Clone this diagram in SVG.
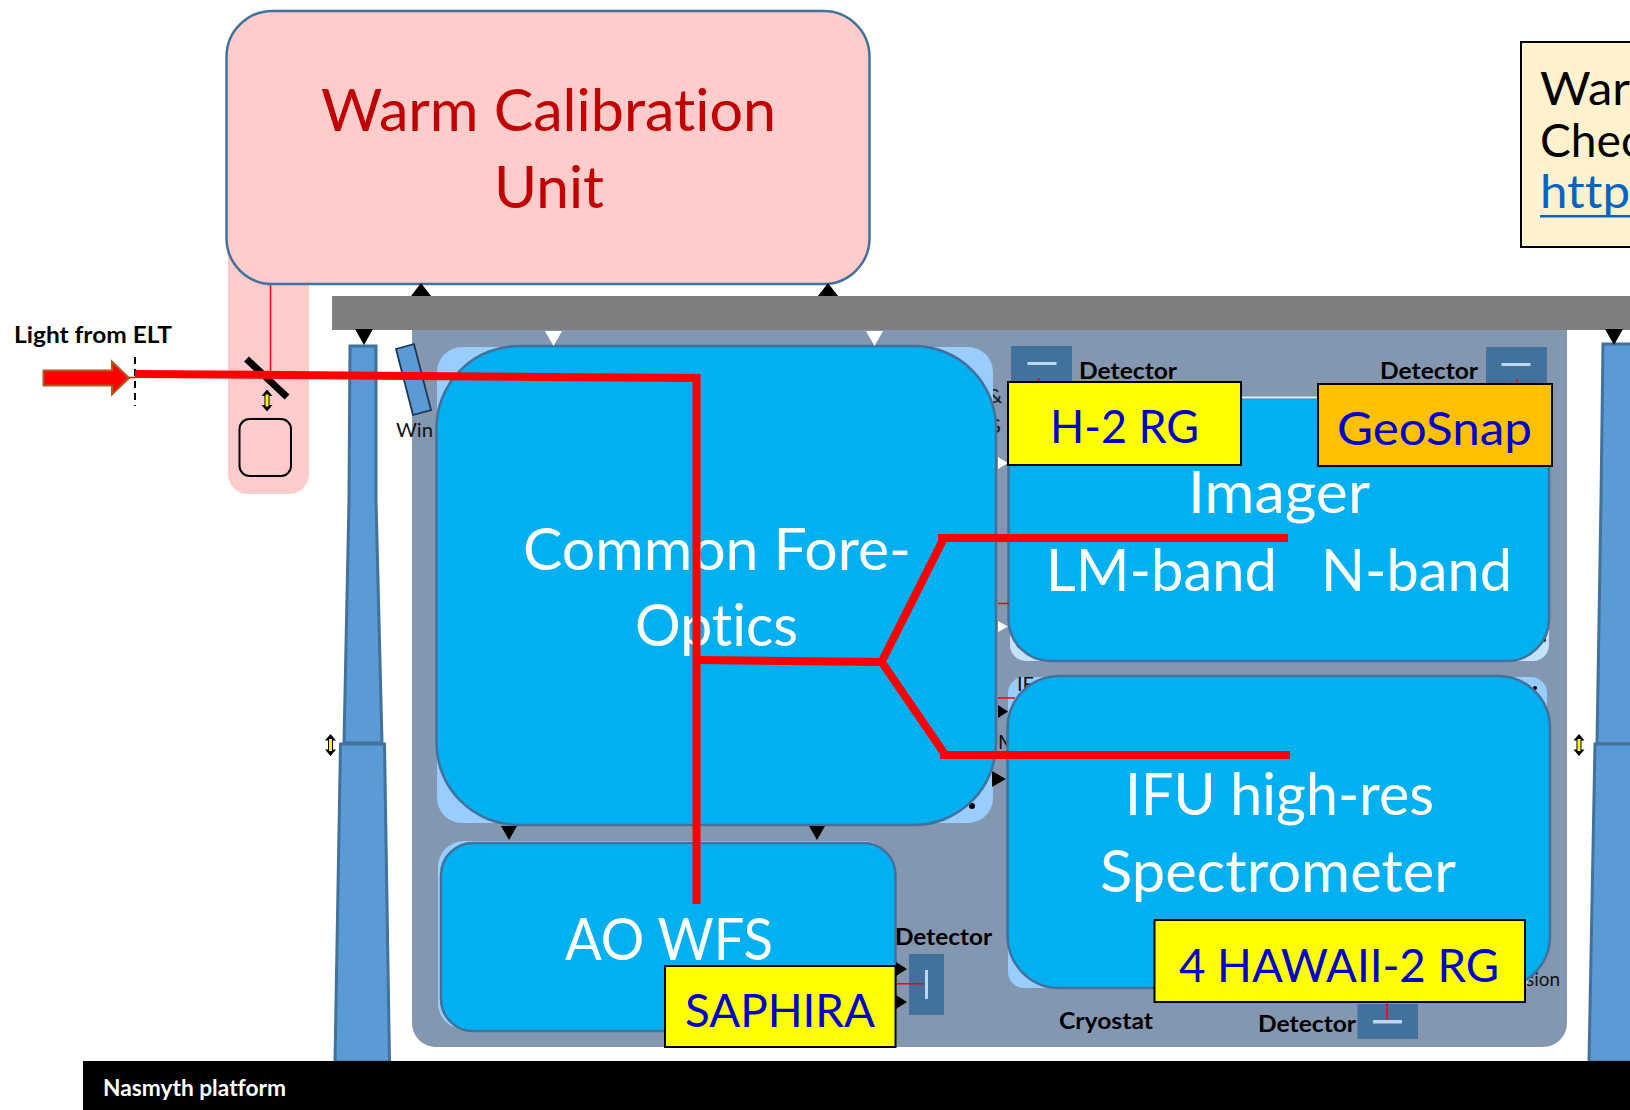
<svg xmlns="http://www.w3.org/2000/svg" width="1630" height="1110" viewBox="0 0 1630 1110">
<style>
text{font-family:Lato,"Liberation Sans",sans-serif;font-variant-ligatures:none}
.big{font-size:57.5px;fill:#fff}
.tag{font-size:46px;fill:#0000cc}
.lab{font-size:23.5px;font-weight:700;fill:#000}
.sm{font-size:20px;fill:#111}
.box{fill:#00b0f0;stroke:#41719c;stroke-width:2.5}
.back{fill:#99ccff}
.det{fill:#41719c}
.dl{fill:#bdd7ee}
.tagbox{stroke:#000;stroke-width:2}
.tri{fill:#000}
.wtri{fill:#fff}
.thin{stroke:#f00;stroke-width:1.5;fill:none}
.ray{stroke:#f00;stroke-width:8;fill:none}
.pil{fill:#5b9bd5;stroke:#41719c;stroke-width:3}
</style>
<defs>
<g id="dbl">
<path fill="#000" d="M0-11 5.500-4.500H2.500V4.500H5.500L0 11-5.500 4.500H-2.500V-4.500H-5.500Z"/>
<rect x="-1.500" y="-6" width="3" height="12" fill="#ff0"/>
</g>
</defs>

<g id="warm-stem">
<rect x="228" y="230" width="81" height="264" rx="20" fill="#ffcccc"/>
<path class="thin" d="M270.500 284V374"/>
<path d="M246.500 359 287 397" stroke="#000" stroke-width="7" fill="none"/>
<use href="#dbl" x="267" y="400.500"/>
<rect x="239.500" y="419" width="51.500" height="57" rx="10" fill="none" stroke="#000" stroke-width="2"/>
</g>

<g id="warm-calibration-unit">
<rect x="226.500" y="11" width="643" height="273" rx="46" fill="#ffcccc" stroke="#41719c" stroke-width="2.500"/>
<text x="321" y="131" font-size="57.500" fill="#c00000" textLength="455" lengthAdjust="spacingAndGlyphs">Warm Calibration</text>
<text x="494" y="208" font-size="57.500" fill="#c00000" textLength="110" lengthAdjust="spacingAndGlyphs">Unit</text>
</g>

<g id="note">
<rect x="1521" y="42" width="130" height="205" fill="#fff2cc" stroke="#000" stroke-width="2"/>
<text x="1540" y="105" font-size="46" fill="#000" textLength="90" lengthAdjust="spacingAndGlyphs">War</text>
<text x="1540" y="157" font-size="46" fill="#000" textLength="103" lengthAdjust="spacingAndGlyphs">Chec</text>
<text x="1540" y="208" font-size="46" fill="#0563c1" textLength="90" lengthAdjust="spacingAndGlyphs">http</text>
<rect x="1540" y="215" width="90" height="2.500" fill="#0563c1"/>
</g>

<g id="cryostat">
<path d="M412 330H1567V1023a24 24 0 0 1-24 24H436a24 24 0 0 1-24-24Z" fill="#8497b0"/>
<text class="sm" x="396" y="437" textLength="37" lengthAdjust="spacingAndGlyphs">Win</text>
<text class="lab" x="1059" y="1029" textLength="94" lengthAdjust="spacingAndGlyphs">Cryostat</text>
<text class="sm" x="1526" y="986" textLength="34" lengthAdjust="spacingAndGlyphs">sion</text>
<text class="sm" x="988" y="403">&amp;</text>
<text class="sm" x="990" y="433">S</text>
<text class="sm" x="998" y="749" font-size="22">M</text>
</g>

<g id="bench">
<rect x="332" y="296" width="1298" height="34" fill="#7f7f7f"/>
</g>

<g id="pillar-left">
<path class="pil" d="M350 346H376V500L382 743H344L349 500Z"/>
<path class="pil" d="M340.500 744H384.500L389.500 1062H335Z"/>
<use href="#dbl" x="330.500" y="745"/>
</g>
<g id="pillar-right">
<path class="pil" d="M1603 344H1640V744H1597L1601 500Z"/>
<path class="pil" d="M1595 744H1640V1062H1589Z"/>
<use href="#dbl" x="1579" y="745"/>
</g>

<g id="window">
<path d="M396 349 414 344 431 410 413 415Z" fill="#5b9bd5" stroke="#1c3650" stroke-width="1.800"/>
</g>

<g id="common-fore-optics">
<rect class="back" x="437" y="347" width="556" height="476" rx="25"/>
<circle cx="972" cy="806" r="3" fill="#000"/>
<rect class="box" x="436.500" y="346" width="559.500" height="479" rx="82"/>
<text class="big" x="523" y="570" textLength="388" lengthAdjust="spacingAndGlyphs">Common Fore-</text>
<text class="big" x="635" y="646" textLength="163" lengthAdjust="spacingAndGlyphs">Optics</text>
</g>

<g id="imager">
<rect x="1010" y="397" width="539" height="264" rx="16" fill="#c4e3fa"/>
<circle cx="1544" cy="640" r="2" fill="#000"/>
<circle cx="1019" cy="645" r="2.500" fill="#000"/>
<rect class="box" x="1008.500" y="398" width="540.500" height="263" rx="42"/>
<path d="M1241 397.500H1318" stroke="#dff2fc" stroke-width="2"/>
<text class="big" x="1188" y="513" textLength="182" lengthAdjust="spacingAndGlyphs">Imager</text>
<text class="big" x="1046" y="590.500" textLength="231" lengthAdjust="spacingAndGlyphs">LM-band</text>
<text class="big" x="1321" y="590.500" textLength="191" lengthAdjust="spacingAndGlyphs">N-band</text>
</g>

<g id="ifu">
<path class="back" d="M1024 677H1531a16 16 0 0 1 16 16V945L1525 988H1024a16 16 0 0 1-16-16V693a16 16 0 0 1 16-16Z"/>
<text class="sm" x="1017" y="691" font-size="14">IF</text>
<circle cx="1535" cy="688" r="2" fill="#000"/>
<rect class="box" x="1007.500" y="676" width="542.500" height="312" rx="52"/>
<text class="big" x="1125" y="815" textLength="309" lengthAdjust="spacingAndGlyphs">IFU high-res</text>
<text class="big" x="1100" y="892" textLength="356" lengthAdjust="spacingAndGlyphs">Spectrometer</text>
</g>

<g id="ao-wfs">
<rect class="back" x="438" y="841" width="452" height="188" rx="26"/>
<rect class="box" x="441" y="843" width="454.500" height="188" rx="32"/>
<text class="big" x="565" y="960" textLength="208" lengthAdjust="spacingAndGlyphs">AO WFS</text>
</g>

<g id="detector-imager-left">
<rect class="det" x="1011" y="346" width="61" height="38"/>
<rect class="dl" x="1027.500" y="362" width="29" height="3"/>
<path class="thin" d="M1039 378V384"/>
<text class="lab" x="1079" y="379" textLength="98" lengthAdjust="spacingAndGlyphs">Detector</text>
</g>
<g id="detector-imager-right">
<rect class="det" x="1486" y="347" width="61" height="39"/>
<rect class="dl" x="1501.500" y="363" width="29" height="3"/>
<path class="thin" d="M1517 379V386"/>
<text class="lab" x="1380" y="379" textLength="98" lengthAdjust="spacingAndGlyphs">Detector</text>
</g>
<g id="detector-ao">
<rect class="det" x="909" y="954" width="35" height="61"/>
<rect class="dl" x="925" y="970" width="3" height="29"/>
<text class="lab" x="895" y="945" textLength="97" lengthAdjust="spacingAndGlyphs">Detector</text>
</g>
<g id="detector-ifu">
<rect class="det" x="1357.500" y="1004" width="60.500" height="35"/>
<rect class="dl" x="1373" y="1020" width="29" height="3.500"/>
<text class="lab" x="1258" y="1032" textLength="98" lengthAdjust="spacingAndGlyphs">Detector</text>
</g>

<g id="connectors">
<path class="tri" d="M421 283 431 296H411Z"/>
<path class="tri" d="M828 283 838 296H818Z"/>
<path class="tri" d="M355 329H373L364 345Z"/>
<path class="tri" d="M1605 329H1623L1614 345Z"/>
<path class="wtri" d="M545 331H562L553.500 346Z"/>
<path class="wtri" d="M866 331H883L874.500 346Z"/>
<path class="wtri" d="M998 457 1008 463 998 469Z"/>
<path class="wtri" d="M998 621 1008 626.500 998 632Z"/>
<path class="tri" d="M998 705 1008 711.500 998 718Z"/>
<path class="tri" d="M992 771 1006 779 992 787Z"/>
<path class="tri" d="M501 826H517L509 840Z"/>
<path class="tri" d="M809 826H825L817 840Z"/>
<path class="tri" d="M896 962 907 969 896 976Z"/>
<path class="tri" d="M896 995 907 1002 896 1009Z"/>
<path class="thin" d="M998 603.500H1009M998 698H1015M896 983.700H924M1387 1002V1020"/>
<path d="M43.500 370.500H112V361.500L129 378 112 394.500V385.500H43.500Z" fill="#f00" stroke="#ae5a21" stroke-width="2"/>
<path class="thin" d="M129 377.500H135"/>
<path d="M135 357V406" stroke="#000" stroke-width="2" stroke-dasharray="7 5" fill="none"/>
<path class="ray" d="M135 374 696.500 378V904"/>
<path class="ray" d="M698 660 883 662M938 538H1288M940 755H1290"/>
<path class="ray" d="M881 663 944 538M881 661 946 756" stroke-width="7.500"/>
</g>

<g id="tag-h2rg">
<rect class="tagbox" x="1008" y="382" width="233" height="83" fill="#ff0"/>
<text class="tag" x="1050" y="443" textLength="149" lengthAdjust="spacingAndGlyphs">H-2 RG</text>
</g>
<g id="tag-geosnap">
<rect class="tagbox" x="1318" y="384" width="234" height="82" fill="#ffc000"/>
<text class="tag" x="1337" y="445" textLength="195" lengthAdjust="spacingAndGlyphs">GeoSnap</text>
</g>
<g id="tag-saphira">
<rect class="tagbox" x="665" y="966" width="230.500" height="81" fill="#ff0"/>
<text class="tag" x="685" y="1027" textLength="190" lengthAdjust="spacingAndGlyphs">SAPHIRA</text>
</g>
<g id="tag-hawaii">
<rect class="tagbox" x="1154.500" y="920" width="370.500" height="82" fill="#ff0"/>
<text class="tag" x="1179" y="982" textLength="320" lengthAdjust="spacingAndGlyphs">4 HAWAII-2 RG</text>
</g>

<g id="light-label">
<text class="lab" x="14" y="343" textLength="158" lengthAdjust="spacingAndGlyphs">Light from ELT</text>
</g>
<g id="nasmyth">
<rect x="83" y="1061" width="1547" height="49" fill="#000"/>
<text x="103" y="1096" font-size="23.500" font-weight="700" fill="#fff" textLength="183" lengthAdjust="spacingAndGlyphs">Nasmyth platform</text>
</g>
</svg>
